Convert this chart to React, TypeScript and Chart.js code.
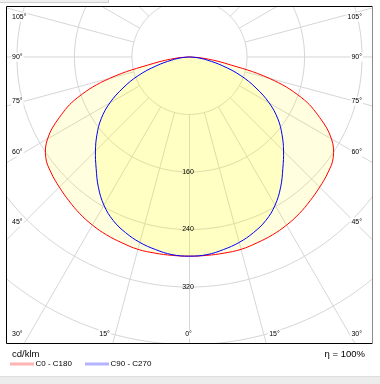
import React, { useEffect, useRef } from 'react';
import { Chart, registerables } from 'chart.js';

Chart.register(...registerables);

// Gamma angles (degrees from nadir) and luminous intensities (cd/klm)
const gammaAngles = [0, 5, 10, 15, 20, 25, 30, 35, 40, 45, 50, 55, 60, 65, 70, 75, 80, 85, 90];
const c0c180 = [277, 277, 277, 277, 275, 273, 270, 266, 261, 256, 251, 244, 228, 200, 166, 115, 50, 18, 0];
const c90c270 = [277, 276, 272, 267, 260, 251, 238, 221, 202, 185, 168, 150, 128, 102, 76, 48, 25, 10, 0];

const ringValues = [80, 160, 240, 320, 400, 480];
const ringLabels = [160, 240, 320];
const rayStep = 15;
const angleLabelValues = [0, 15, 30, 45, 60, 75, 90, 105];
const seriesNames = ['C0 - C180', 'C90 - C270'];
const unitLabel = 'cd/klm';
const efficiencyLabel = 'η = 100%';

const FONT = '"Liberation Sans", Arial, sans-serif';

function curvePoints(values: number[]) {
  const pts: { x: number; y: number }[] = [];
  for (let i = gammaAngles.length - 1; i >= 1; i--) {
    const t = (gammaAngles[i] * Math.PI) / 180;
    pts.push({ x: -values[i] * Math.sin(t), y: -values[i] * Math.cos(t) });
  }
  for (let i = 0; i < gammaAngles.length; i++) {
    const t = (gammaAngles[i] * Math.PI) / 180;
    pts.push({ x: values[i] * Math.sin(t), y: -values[i] * Math.cos(t) });
  }
  return pts;
}

function toPx(chart: any, r: number, deg: number): [number, number] {
  const t = (deg * Math.PI) / 180;
  return [chart.scales.x.getPixelForValue(r * Math.sin(t)), chart.scales.y.getPixelForValue(-r * Math.cos(t))];
}

const gridPlugin = {
  id: 'polarGrid',
  beforeDatasetsDraw(chart: any) {
    const { ctx, chartArea: ca } = chart;
    ctx.save();
    ctx.beginPath();
    ctx.rect(ca.left, ca.top, ca.right - ca.left, ca.bottom - ca.top);
    ctx.clip();
    ctx.fillStyle = '#ffffff';
    ctx.fillRect(ca.left, ca.top, ca.right - ca.left, ca.bottom - ca.top);
    ctx.strokeStyle = '#d6d6d6';
    ctx.lineWidth = 1;
    for (const r of ringValues) {
      ctx.beginPath();
      for (let a = 0; a <= 360; a += 2) {
        const [px, py] = toPx(chart, r, a);
        if (a === 0) ctx.moveTo(px, py);
        else ctx.lineTo(px, py);
      }
      ctx.closePath();
      ctx.stroke();
    }
    for (let a = 0; a < 360; a += rayStep) {
      const [x1, y1] = toPx(chart, ringValues[0], a);
      const [x2, y2] = toPx(chart, 900, a);
      ctx.beginPath();
      ctx.moveTo(x1, y1);
      ctx.lineTo(x2, y2);
      ctx.stroke();
    }
    ctx.restore();
  },
  afterDatasetsDraw(chart: any) {
    const { ctx, chartArea: ca } = chart;
    const cx = chart.scales.x.getPixelForValue(0);
    const cy = chart.scales.y.getPixelForValue(0);
    ctx.save();
    ctx.font = `7px ${FONT}`;
    ctx.fillStyle = '#000';
    ctx.textBaseline = 'middle';
    ctx.textAlign = 'center';
    for (const v of ringLabels) {
      const [, py] = toPx(chart, v, 0);
      ctx.fillText(String(v), cx - 1.5, py);
    }
    const sideDist = 165;
    const bottomDist = 317;
    for (const deg of angleLabelValues) {
      const sides = deg === 0 ? [0] : [-1, 1];
      for (const s of sides) {
        const t = (deg * Math.PI) / 180;
        const sn = Math.sin(t);
        const cs = Math.cos(t);
        let x: number, y: number, align: CanvasTextAlign;
        if (deg === 0) {
          x = cx - 1;
          y = ca.bottom - 9;
          align = 'center';
        } else {
          const tSide = sideDist / sn;
          const tBot = cs > 1e-6 ? bottomDist / cs : Infinity;
          if (tSide <= tBot) {
            y = Math.min(Math.max(cy + tSide * cs, ca.top + 10), ca.bottom - 9);
            x = s < 0 ? ca.left + 5 : ca.right - 10;
            align = s < 0 ? 'left' : 'right';
          } else {
            y = ca.bottom - 9;
            x = cx + s * tBot * sn;
            align = 'center';
          }
        }
        const txt = `${deg}°`;
        const w = ctx.measureText(txt).width;
        let left = x;
        if (align === 'center') left = x - w / 2;
        else if (align === 'right') left = x - w;
        ctx.fillStyle = '#fff';
        ctx.fillRect(left - 1, y - 4.5, w + 2, 9);
        ctx.fillStyle = '#000';
        ctx.textAlign = align;
        ctx.fillText(txt, x, y);
      }
    }
    ctx.restore();
  },
  afterDraw(chart: any) {
    const { ctx, chartArea: ca } = chart;
    ctx.save();
    ctx.lineWidth = 1;
    ctx.strokeStyle = '#000';
    ctx.beginPath();
    ctx.moveTo(ca.left - 0.5, ca.bottom + 0.5);
    ctx.lineTo(ca.left - 0.5, ca.top - 0.5);
    ctx.lineTo(ca.right + 0.5, ca.top - 0.5);
    ctx.moveTo(ca.left - 0.5, ca.bottom + 0.5);
    ctx.lineTo(ca.right + 0.5, ca.bottom + 0.5);
    ctx.stroke();
    ctx.strokeStyle = '#8a8a8a';
    ctx.beginPath();
    ctx.moveTo(ca.right + 0.5, ca.top - 0.5);
    ctx.lineTo(ca.right + 0.5, ca.bottom + 0.5);
    ctx.stroke();

    ctx.fillStyle = '#000';
    ctx.textBaseline = 'middle';
    ctx.textAlign = 'left';
    ctx.font = `9.5px ${FONT}`;
    ctx.fillText(unitLabel, ca.left + 5, ca.bottom + 11);
    ctx.textAlign = 'right';
    ctx.fillText(efficiencyLabel, ca.right - 7, ca.bottom + 11);

    const legendY = ca.bottom + 21;
    const items = [
      { name: seriesNames[0], color: '#ffb3b3', x0: ca.left + 3 },
      { name: seriesNames[1], color: '#b3b3ff', x0: ca.left + 78 },
    ];
    ctx.font = `8px ${FONT}`;
    ctx.textAlign = 'left';
    for (const it of items) {
      ctx.strokeStyle = it.color;
      ctx.lineWidth = 3;
      ctx.beginPath();
      ctx.moveTo(it.x0, legendY);
      ctx.lineTo(it.x0 + 24, legendY);
      ctx.stroke();
      ctx.fillStyle = '#000';
      ctx.fillText(it.name, it.x0 + 25.5, legendY);
    }
    ctx.restore();
  },
};

export default function App() {
  const ref = useRef<HTMLCanvasElement | null>(null);
  useEffect(() => {
    if (!ref.current) return;
    const chart = new Chart(ref.current, {
      type: 'scatter',
      data: {
        datasets: [
          {
            label: seriesNames[1],
            data: curvePoints(c90c270),
            showLine: true,
            borderColor: '#0000ff',
            borderWidth: 1,
            backgroundColor: 'rgba(255,255,0,0.12)',
            fill: 'shape',
            pointRadius: 0,
            tension: 0.4,
          },
          {
            label: seriesNames[0],
            data: curvePoints(c0c180),
            showLine: true,
            borderColor: '#ff0000',
            borderWidth: 1,
            backgroundColor: 'rgba(255,255,0,0.12)',
            fill: 'shape',
            pointRadius: 0,
            tension: 0.4,
          },
        ],
      },
      options: {
        animation: false,
        responsive: false,
        devicePixelRatio: 1,
        layout: { padding: { left: 7, top: 7, right: 8, bottom: 41 } },
        scales: {
          x: { type: 'linear', min: -253.8, max: 253.8, display: false },
          y: { type: 'linear', min: -397.8, max: 69.5, display: false },
        },
        plugins: {
          legend: { display: false },
          tooltip: { enabled: false },
        },
      },
      plugins: [gridPlugin],
    });
    return () => chart.destroy();
  }, []);

  return (
    <div style={{ position: 'fixed', left: 0, top: 0, width: 380, height: 384, background: '#fff', overflow: 'hidden' }}>
      <div
        style={{
          position: 'absolute',
          left: 0,
          top: 0,
          width: 108,
          height: 2,
          background: '#f0f0f0',
          borderBottom: '1px solid #cfcfcf',
          borderRight: '1px solid #cfcfcf',
        }}
      />
      <canvas ref={ref} width={380} height={384} style={{ position: 'absolute', left: 0, top: 0 }} />
      <div
        style={{
          position: 'absolute',
          left: 0,
          top: 376,
          width: 380,
          height: 8,
          background: '#ececec',
          borderTop: '1px solid #dedede',
        }}
      />
    </div>
  );
}
